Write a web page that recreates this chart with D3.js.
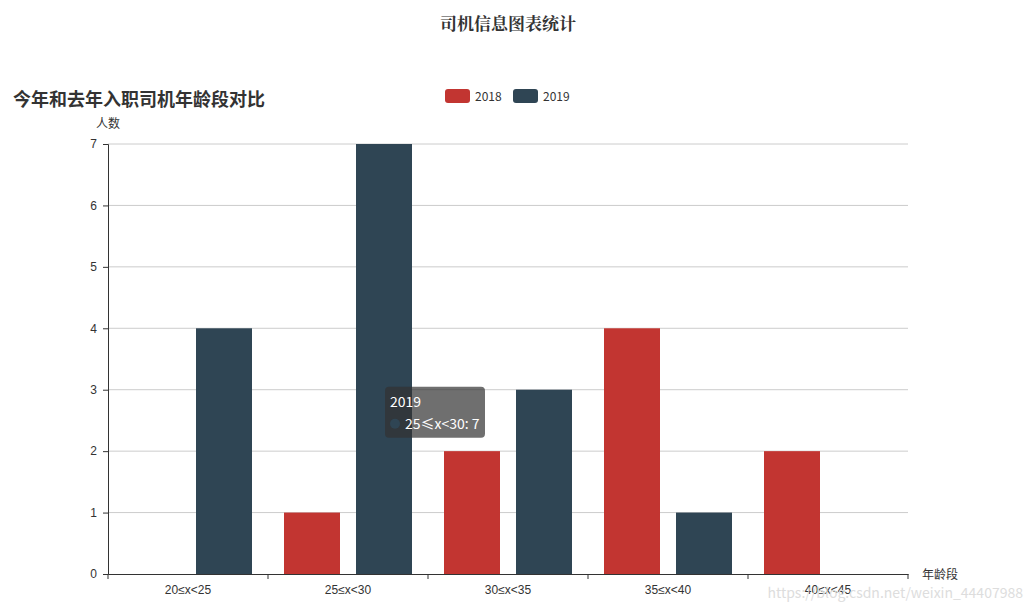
<!DOCTYPE html>
<html>
<head>
<meta charset="utf-8">
<script src="https://cdn.jsdelivr.net/npm/d3@7"></script>
<style>
  body { margin: 0; background: #fff; }
  svg { display: block; font-family: "Microsoft YaHei", "Noto Sans CJK SC", sans-serif; }
</style>
</head>
<body>
<svg id="chart" width="1033" height="614"></svg>
<script>
// chart data
const categories = ['20≤x<25', '25≤x<30', '30≤x<35', '35≤x<40', '40≤x<45'];
const seriesNames = ['2018', '2019'];
const values2018 = [0, 1, 2, 4, 2];
const values2019 = [4, 7, 3, 1, 0];
const yTicks = [0, 1, 2, 3, 4, 5, 6, 7];
const colors = ['#c23531', '#2f4554'];

const svg = d3.select('#chart');
const margin = { left: 108, top: 144, right: 125, bottom: 40 };
const width = 1033 - margin.left - margin.right;
const height = 614 - margin.top - margin.bottom;

const x0 = d3.scaleBand().domain(categories).range([0, width]);
const x1 = d3.scaleBand().domain(seriesNames)
  .range([0, x0.bandwidth()])
  .paddingInner(16 / 72)
  .paddingOuter(16 / 72);
const y = d3.scaleLinear().domain([0, 7]).range([height, 0]);
const color = d3.scaleOrdinal().domain(seriesNames).range(colors);

const rows = categories.map((c, i) => ({
  cat: c,
  vals: [{ name: '2018', v: values2018[i] }, { name: '2019', v: values2019[i] }]
}));

// titles
svg.append('text')
  .attr('x', 508).attr('y', 30)
  .attr('text-anchor', 'middle')
  .attr('font-size', 17).attr('font-weight', 'bold')
  .attr('fill', '#333')
  .style('font-family', '"Noto Serif CJK SC", "Noto Sans CJK SC", serif')
  .text('司机信息图表统计');

svg.append('text')
  .attr('x', 13).attr('y', 106)
  .attr('font-size', 18).attr('font-weight', 'bold')
  .attr('fill', '#333')
  .text('今年和去年入职司机年龄段对比');

// legend
const legend = svg.append('g').attr('transform', 'translate(445, 89)');
seriesNames.forEach((name, i) => {
  const g = legend.append('g').attr('transform', `translate(${i * 68}, 0)`);
  g.append('rect')
    .attr('width', 25).attr('height', 14).attr('rx', 3)
    .attr('fill', color(name));
  g.append('text')
    .attr('x', 30).attr('y', 12)
    .attr('font-size', 12).attr('fill', '#333')
    .text(name);
});

const plot = svg.append('g').attr('transform', `translate(${margin.left},${margin.top})`);

// grid lines
plot.append('g')
  .selectAll('line')
  .data(yTicks.filter(d => d > 0))
  .enter()
  .append('line')
  .attr('x1', 0).attr('x2', width)
  .attr('y1', d => y(d)).attr('y2', d => y(d))
  .attr('stroke', '#ccc');

// bars
plot.selectAll('.bar-group')
  .data(rows)
  .enter()
  .append('g')
  .attr('class', 'bar-group')
  .attr('transform', d => `translate(${x0(d.cat)},0)`)
  .selectAll('rect')
  .data(d => d.vals)
  .enter()
  .append('rect')
  .attr('x', d => x1(d.name))
  .attr('y', d => y(d.v))
  .attr('width', x1.bandwidth())
  .attr('height', d => height - y(d.v))
  .attr('fill', d => color(d.name));

// y axis
const yAxis = plot.append('g')
  .call(d3.axisLeft(y).tickValues(yTicks).tickFormat(d3.format('d')).tickSize(5).tickPadding(6));
yAxis.select('.domain').attr('stroke', '#333');
yAxis.selectAll('line').attr('stroke', '#333');
yAxis.selectAll('text').attr('fill', '#333').attr('font-size', 12);

// x axis
const xAxis = plot.append('g')
  .attr('transform', `translate(0,${height})`)
  .call(d3.axisBottom(x0).tickSize(0).tickPadding(11));
xAxis.select('.domain').attr('stroke', '#333');
xAxis.selectAll('text').attr('fill', '#333').attr('font-size', 12);
xAxis.selectAll('.boundary')
  .data(d3.range(categories.length + 1))
  .enter()
  .append('line')
  .attr('class', 'boundary')
  .attr('x1', i => i * x0.step()).attr('x2', i => i * x0.step())
  .attr('y1', 0).attr('y2', 5)
  .attr('stroke', '#333');

// axis names
svg.append('text')
  .attr('x', 108).attr('y', 128)
  .attr('text-anchor', 'middle')
  .attr('font-size', 12).attr('fill', '#333')
  .text('人数');
svg.append('text')
  .attr('x', 922).attr('y', 579)
  .attr('font-size', 12).attr('fill', '#333')
  .text('年龄段');

// tooltip on 25≤x<30 / 2019
const tipX = margin.left + x0('25≤x<30') + x1('2019') + x1.bandwidth() / 2 + 1;
const tipY = margin.top + y(3) - 3;
const tip = svg.append('g').attr('transform', `translate(${tipX},${tipY})`);
tip.append('rect')
  .attr('width', 100).attr('height', 51).attr('rx', 4)
  .attr('fill', 'rgba(50,50,50,0.7)');
tip.append('text')
  .attr('x', 5).attr('y', 20)
  .attr('font-size', 14).attr('fill', '#fff')
  .text('2019');
tip.append('circle')
  .attr('cx', 10).attr('cy', 37).attr('r', 5)
  .attr('fill', color('2019'));
tip.append('text')
  .attr('x', 20).attr('y', 42)
  .attr('font-size', 14).attr('fill', '#fff')
  .text(`25≤x<30: ${values2019[1]}`);

// watermark
svg.append('text')
  .attr('x', 1023).attr('y', 598)
  .attr('text-anchor', 'end')
  .attr('font-size', 14).attr('fill', '#ddd')
  .text('https://blog.csdn.net/weixin_44407988');
</script>
</body>
</html>
